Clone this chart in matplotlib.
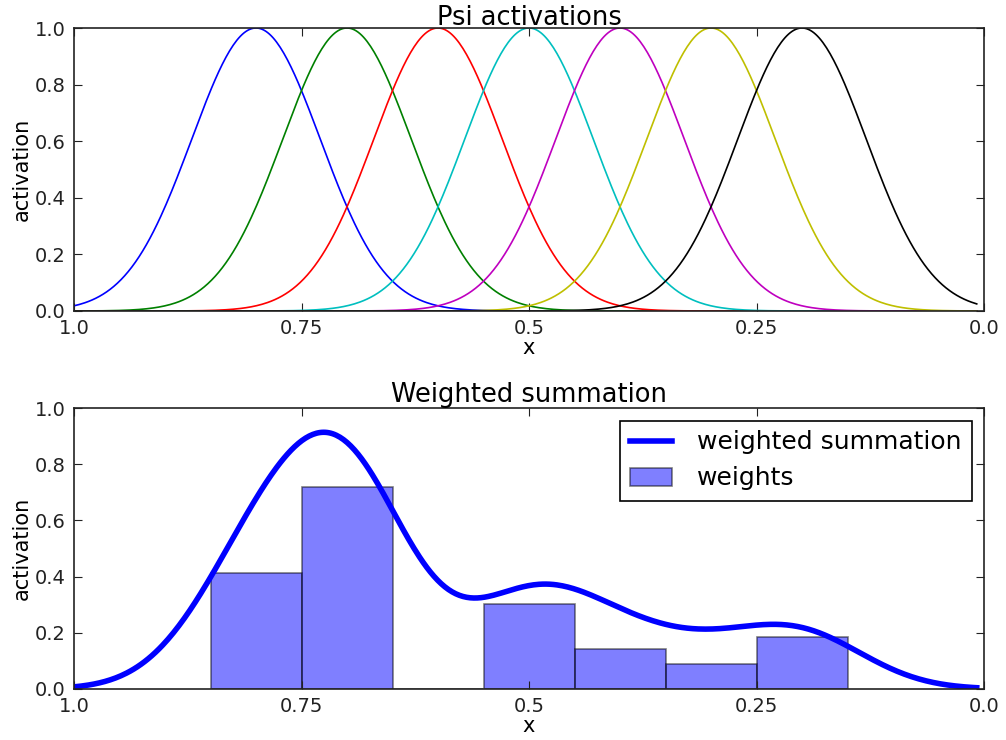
import numpy as np
import matplotlib
matplotlib.use("Agg")
import matplotlib.pyplot as plt

# Data
centers = [0.8, 0.7, 0.6, 0.5, 0.4, 0.3, 0.2]
weights = [0.413, 0.72, 0.0, 0.301, 0.142, 0.088, 0.184]
width_h = 100.0
colors = ['b', 'g', 'r', 'c', 'm', 'y', 'k']
xticks = [1.0, 0.75, 0.5, 0.25, 0.0]
xticklabels = ['1.0', '0.75', '0.5', '0.25', '0.0']
yticks = [0.0, 0.2, 0.4, 0.6, 0.8, 1.0]

x = np.linspace(1.0, 0.008, 500)
psi = np.array([np.exp(-width_h * (x - c) ** 2) for c in centers])
summed = np.dot(weights, psi)

fig = plt.figure(figsize=(10.06, 7.40), dpi=100)
ax1 = fig.add_axes([74/1006, 1-311/740, (984-74)/1006, (311-28)/740])
ax2 = fig.add_axes([74/1006, 1-689/740, (984-74)/1006, (689-408)/740])

tick_fs = 14
for ax in (ax1, ax2):
    ax.set_xlim(1.0, 0.0)
    ax.set_ylim(0.0, 1.0)
    ax.set_xticks(xticks)
    ax.set_xticklabels(xticklabels)
    ax.set_yticks(yticks)
    ax.tick_params(direction='in', length=6, labelsize=tick_fs, pad=6, top=True, right=True, colors='#222222')
    ax.tick_params(axis='x', labeltop=False, labelright=False)
    for s in ax.spines.values():
        s.set_linewidth(1.2)
        s.set_color('#222222')
    ax.set_xlabel('x', fontsize=15, labelpad=0)
    ax.set_ylabel('activation', fontsize=15, labelpad=2)

for i in range(len(centers)):
    ax1.plot(x, psi[i], color=colors[i], lw=1.2)
ax1.set_title('Psi activations', fontsize=18.5, pad=2)

ax2.bar(centers, weights, width=0.1, color='b', alpha=0.5, edgecolor='k', linewidth=1.2, label='weights')
ax2.plot(x, summed, color='b', lw=4, label='weighted summation')
ax2.set_title('Weighted summation', fontsize=18.5, pad=4)
leg = ax2.legend(loc='upper right', fontsize=18, fancybox=False, framealpha=1, edgecolor='k',
                 borderaxespad=0.5, handlelength=1.7, handletextpad=1.0, borderpad=0.4, labelspacing=0.48)
leg.get_frame().set_linewidth(1.2)

fig.savefig('out.png', dpi=100)
